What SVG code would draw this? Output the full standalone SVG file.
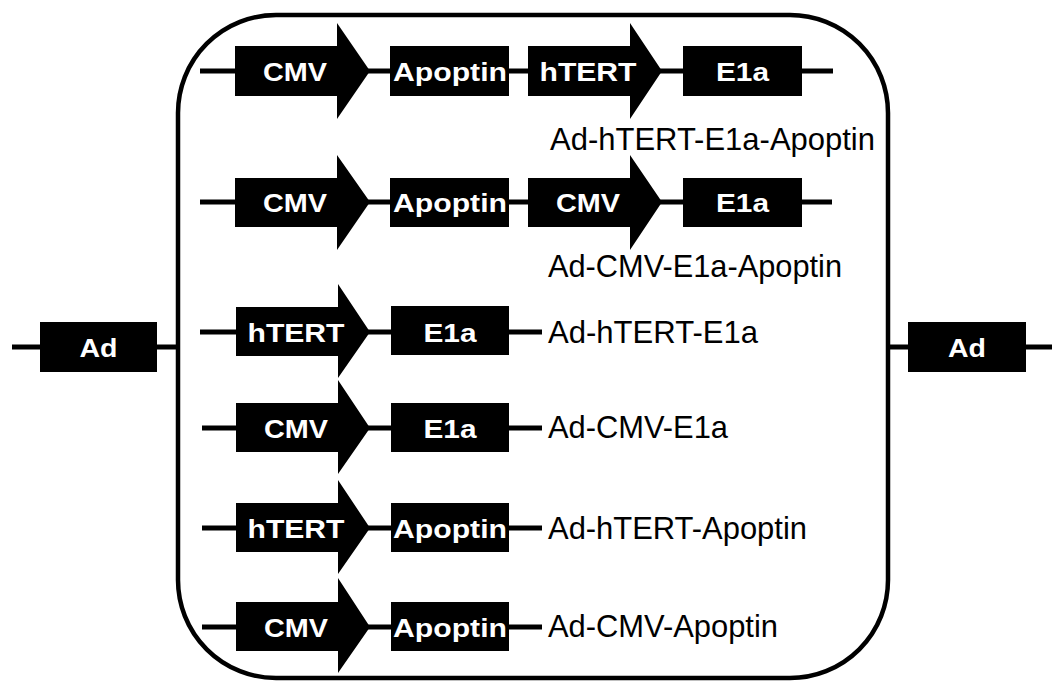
<svg xmlns="http://www.w3.org/2000/svg" width="1063" height="692" viewBox="0 0 1063 692">
<style>
.ln{stroke:#000;stroke-width:5;fill:none}
.frame{stroke:#000;stroke-width:4.5;fill:none}
.blk{fill:#000}
.bt{font-family:"Liberation Sans",Arial,sans-serif;font-weight:bold;font-size:26px;fill:#fff;text-anchor:middle}
.lb{font-family:"Liberation Sans",Arial,sans-serif;font-size:30.5px;fill:#000}
</style>
<rect width="1063" height="692" fill="#fff"/>
<g id="connectors">
<rect class="frame" x="178" y="15" width="710" height="663" rx="98" ry="98"/>
<line class="ln" x1="12" y1="347" x2="178" y2="347"/>
<line class="ln" x1="888" y1="347" x2="1052" y2="347"/>
<line class="ln" x1="200" y1="71" x2="833" y2="71"/>
<line class="ln" x1="200" y1="202" x2="832" y2="202"/>
<line class="ln" x1="200" y1="332" x2="542" y2="332"/>
<line class="ln" x1="202" y1="428" x2="542" y2="428"/>
<line class="ln" x1="202" y1="528" x2="542" y2="528"/>
<line class="ln" x1="202" y1="627" x2="542" y2="627"/>
</g>
<g id="ad-left"><rect class="blk" x="40" y="322" width="117" height="50"/><text class="bt" x="98.5" y="357" font-size="28" textLength="38" lengthAdjust="spacingAndGlyphs">Ad</text></g>
<g id="ad-right"><rect class="blk" x="908" y="322" width="118" height="50"/><text class="bt" x="967" y="357" font-size="28" textLength="38" lengthAdjust="spacingAndGlyphs">Ad</text></g>

<g id="row1">
<g id="r1-cmv"><polygon class="blk" points="235,46 337,46 337,23 370,71 337,119 337,96 235,96"/><text class="bt" x="295" y="81" textLength="64" lengthAdjust="spacingAndGlyphs">CMV</text></g>
<g id="r1-apoptin"><rect class="blk" x="390" y="46" width="119" height="50"/><text class="bt" x="450" y="81" textLength="114" lengthAdjust="spacingAndGlyphs">Apoptin</text></g>
<g id="r1-htert"><polygon class="blk" points="528,46 630,46 630,23 662,71 630,119 630,96 528,96"/><text class="bt" x="588" y="81" textLength="97" lengthAdjust="spacingAndGlyphs">hTERT</text></g>
<g id="r1-e1a"><rect class="blk" x="683" y="46" width="119" height="50"/><text class="bt" x="742.5" y="81" textLength="53" lengthAdjust="spacingAndGlyphs">E1a</text></g>
<text class="lb" x="550" y="150" textLength="325" lengthAdjust="spacingAndGlyphs">Ad-hTERT-E1a-Apoptin</text>
</g>

<g id="row2">
<g id="r2-cmv"><polygon class="blk" points="235,178 337,178 337,155 370,202 337,250 337,227 235,227"/><text class="bt" x="295" y="212" textLength="64" lengthAdjust="spacingAndGlyphs">CMV</text></g>
<g id="r2-apoptin"><rect class="blk" x="390" y="178" width="119" height="49"/><text class="bt" x="450" y="212" textLength="114" lengthAdjust="spacingAndGlyphs">Apoptin</text></g>
<g id="r2-cmv2"><polygon class="blk" points="528,178 630,178 630,155 662,202 630,250 630,227 528,227"/><text class="bt" x="588" y="212" textLength="64" lengthAdjust="spacingAndGlyphs">CMV</text></g>
<g id="r2-e1a"><rect class="blk" x="683" y="178" width="119" height="49"/><text class="bt" x="742.5" y="212" textLength="53" lengthAdjust="spacingAndGlyphs">E1a</text></g>
<text class="lb" x="548" y="277" textLength="294" lengthAdjust="spacingAndGlyphs">Ad-CMV-E1a-Apoptin</text>
</g>

<g id="row3">
<g id="r3-htert"><polygon class="blk" points="236,307 338,307 338,284 370,332 338,378 338,356 236,356"/><text class="bt" x="296" y="342" textLength="97" lengthAdjust="spacingAndGlyphs">hTERT</text></g>
<g id="r3-e1a"><rect class="blk" x="391" y="306" width="118" height="49"/><text class="bt" x="450" y="342" textLength="53" lengthAdjust="spacingAndGlyphs">E1a</text></g>
<text class="lb" x="548" y="343" textLength="210" lengthAdjust="spacingAndGlyphs">Ad-hTERT-E1a</text>
</g>

<g id="row4">
<g id="r4-cmv"><polygon class="blk" points="236,403 338,403 338,380 370,428 338,474 338,452 236,452"/><text class="bt" x="296" y="438" textLength="64" lengthAdjust="spacingAndGlyphs">CMV</text></g>
<g id="r4-e1a"><rect class="blk" x="391" y="403" width="118" height="49"/><text class="bt" x="450" y="438" textLength="53" lengthAdjust="spacingAndGlyphs">E1a</text></g>
<text class="lb" x="548" y="438" textLength="180" lengthAdjust="spacingAndGlyphs">Ad-CMV-E1a</text>
</g>

<g id="row5">
<g id="r5-htert"><polygon class="blk" points="236,503 338,503 338,480 370,528 338,574 338,552 236,552"/><text class="bt" x="296" y="538" textLength="97" lengthAdjust="spacingAndGlyphs">hTERT</text></g>
<g id="r5-apoptin"><rect class="blk" x="391" y="503" width="118" height="49"/><text class="bt" x="450" y="538" textLength="114" lengthAdjust="spacingAndGlyphs">Apoptin</text></g>
<text class="lb" x="548" y="539" textLength="259" lengthAdjust="spacingAndGlyphs">Ad-hTERT-Apoptin</text>
</g>

<g id="row6">
<g id="r6-cmv"><polygon class="blk" points="236,602 338,602 338,578 370,627 338,673 338,651 236,651"/><text class="bt" x="296" y="637" textLength="64" lengthAdjust="spacingAndGlyphs">CMV</text></g>
<g id="r6-apoptin"><rect class="blk" x="391" y="602" width="118" height="49"/><text class="bt" x="450" y="637" textLength="114" lengthAdjust="spacingAndGlyphs">Apoptin</text></g>
<text class="lb" x="548" y="637" textLength="230" lengthAdjust="spacingAndGlyphs">Ad-CMV-Apoptin</text>
</g>
</svg>
